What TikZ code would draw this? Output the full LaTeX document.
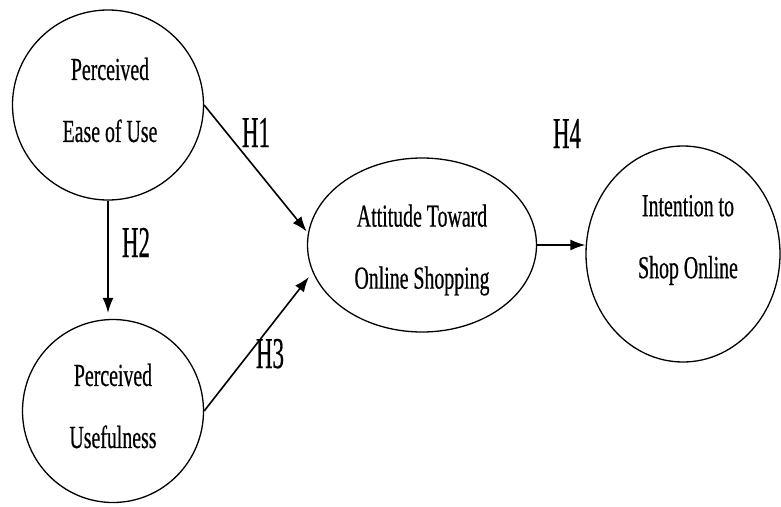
\documentclass[tikz,border=0pt]{standalone}
\usepackage{fontspec}
\setmainfont{Liberation Serif}
\newfontfamily\lblfont[FakeStretch=0.62,FakeBold=0.5]{Liberation Serif}
\newfontfamily\hypfont[FakeStretch=0.52,FakeBold=0.5]{Liberation Serif}
\usetikzlibrary{shapes.geometric,arrows.meta}
\begin{document}
\begin{tikzpicture}[x=1pt,y=-1pt,
  ell/.style={draw, ellipse, line width=1.3pt, inner sep=0pt},
  txt/.style={font=\lblfont\fontsize{32}{62}\selectfont, align=center, inner sep=0pt},
  hyp/.style={font=\hypfont\fontsize{44}{44}\selectfont, inner sep=0pt, anchor=base},
  arr/.style={-{Latex[length=15pt,width=11pt]}, line width=1.6pt}]
\useasboundingbox (0,0) rectangle (781,506);
\node[ell, minimum width=191pt, minimum height=190pt] (e1) at (108,105) {};
\node[ell, minimum width=181pt, minimum height=183pt] (e2) at (113,411) {};
\node[ell, minimum width=229pt, minimum height=174pt] (e3) at (422,245) {};
\node[ell, minimum width=194pt, minimum height=216pt] (e4) at (683,254) {};
\node[txt] (t1) at (110,100) {Perceived\\Ease of Use};
\node[txt] (t2) at (113,406) {Perceived\\Usefulness};
\node[txt] (t3) at (422,250) {Attitude Toward\\Online Shopping};
\node[txt] (t4) at (688,240) {Intention to\\Shop Online};
\draw[arr, shorten >=2pt] (e1.east) -- (e3.174);
\draw[arr, shorten >=6pt] (e1.south) -- (e1.south |- e2.north);
\draw[arr, shorten >=6pt] (e2.east) -- (e3.194);
\draw[arr] (e3.east) -- (e3.east -| e4.west);
\node[hyp] (h1) at (256,147) {H1};
\node[hyp] (h2) at (136,257) {H2};
\node[hyp] (h3) at (270,368) {H3};
\node[hyp] (h4) at (567,148) {H4};
\end{tikzpicture}
\end{document}
